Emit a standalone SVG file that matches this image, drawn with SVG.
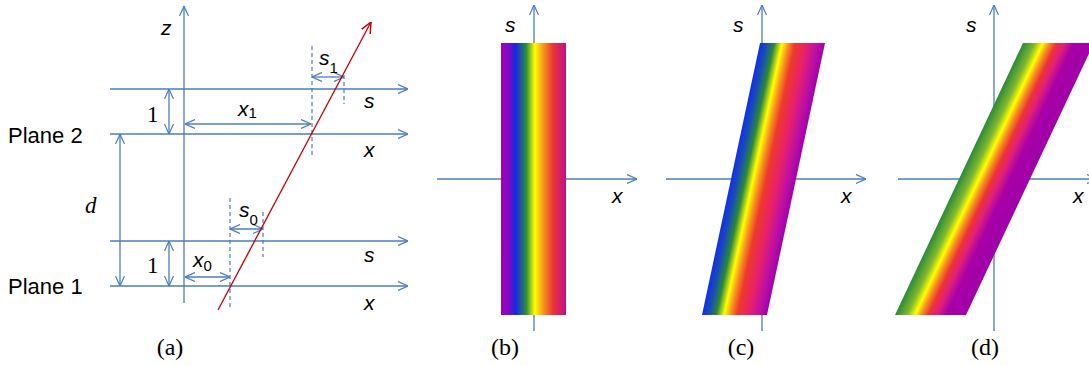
<svg xmlns="http://www.w3.org/2000/svg" width="1089" height="366" viewBox="0 0 1089 366">
<style>
.ax{stroke:#4a7ebb;stroke-width:1.3;fill:none}
.dash{stroke:#4a7ebb;stroke-width:1.2;stroke-dasharray:4 3;fill:none}
.ray{stroke:#c00000;stroke-width:1.3;fill:none}
.lab{font-family:"Liberation Sans",Arial,sans-serif;font-style:italic;font-size:21px;fill:#000}
.sub{font-family:"Liberation Sans",Arial,sans-serif;font-style:normal;font-size:15px;fill:#000}
.pl{font-family:"Liberation Sans",Arial,sans-serif;font-size:22px;fill:#000}
.ser{font-family:"Liberation Serif","Times New Roman",serif;font-size:23px;fill:#000}
.cap{font-family:"Liberation Serif","Times New Roman",serif;font-size:24px;fill:#000;text-anchor:middle}
</style>
<defs>
<marker id="arr" viewBox="0 0 10 10" refX="10" refY="5" markerWidth="10" markerHeight="10" markerUnits="userSpaceOnUse" orient="auto-start-reverse">
<path d="M0,0.5 L10,5 L0,9.5" fill="none" stroke="#4a7ebb" stroke-width="1.2"/>
</marker>
<marker id="arrR" viewBox="0 0 10 10" refX="10" refY="5" markerWidth="11" markerHeight="11" markerUnits="userSpaceOnUse" orient="auto">
<path d="M0,0.5 L10,5 L0,9.5" fill="none" stroke="#c00000" stroke-width="1.3"/>
</marker>
<linearGradient id="gb" x1="0" y1="0" x2="1" y2="0">
<stop offset="0" stop-color="#a000b4"/>
<stop offset="0.1" stop-color="#8a08c0"/>
<stop offset="0.23" stop-color="#1428e6"/>
<stop offset="0.39" stop-color="#2e8f3e"/>
<stop offset="0.52" stop-color="#ffff00"/>
<stop offset="0.66" stop-color="#f5901e"/>
<stop offset="0.8" stop-color="#e93535"/>
<stop offset="1" stop-color="#c0108c"/>
</linearGradient>
<linearGradient id="gc" x1="0" y1="0" x2="1" y2="0">
<stop offset="0" stop-color="#1030e8"/>
<stop offset="0.1" stop-color="#1a4ab8"/>
<stop offset="0.22" stop-color="#2a8a3a"/>
<stop offset="0.34" stop-color="#ffff00"/>
<stop offset="0.44" stop-color="#f59020"/>
<stop offset="0.54" stop-color="#ee3a2a"/>
<stop offset="0.72" stop-color="#e8206a"/>
<stop offset="0.87" stop-color="#c010a0"/>
<stop offset="1" stop-color="#a000b0"/>
</linearGradient>
<linearGradient id="gd" x1="0" y1="0" x2="1" y2="0">
<stop offset="0" stop-color="#2a8a3a"/>
<stop offset="0.17" stop-color="#80b830"/>
<stop offset="0.28" stop-color="#ffff00"/>
<stop offset="0.37" stop-color="#f59020"/>
<stop offset="0.47" stop-color="#ee3333"/>
<stop offset="0.58" stop-color="#e0207a"/>
<stop offset="0.72" stop-color="#a800a8"/>
<stop offset="1" stop-color="#a000a8"/>
</linearGradient>
</defs>

<g id="panel-a">
<g id="connectors-a">
<line class="ax" x1="184" y1="303" x2="184" y2="6" marker-end="url(#arr)"/>
<line class="ax" x1="110" y1="89" x2="408" y2="89" marker-end="url(#arr)"/>
<line class="ax" x1="110" y1="134" x2="408" y2="134" marker-end="url(#arr)"/>
<line class="ax" x1="110" y1="241" x2="408" y2="241" marker-end="url(#arr)"/>
<line class="ax" x1="110" y1="286" x2="408" y2="286" marker-end="url(#arr)"/>
<line class="ax" x1="120" y1="134" x2="120" y2="286" marker-start="url(#arr)" marker-end="url(#arr)"/>
<line class="ax" x1="169" y1="89" x2="169" y2="134" marker-start="url(#arr)" marker-end="url(#arr)"/>
<line class="ax" x1="169" y1="241" x2="169" y2="286" marker-start="url(#arr)" marker-end="url(#arr)"/>
<line class="ax" x1="185" y1="124" x2="311" y2="124" marker-start="url(#arr)" marker-end="url(#arr)"/>
<line class="ax" x1="312" y1="77" x2="344" y2="77" marker-start="url(#arr)" marker-end="url(#arr)"/>
<line class="ax" x1="230" y1="229" x2="263" y2="229" marker-start="url(#arr)" marker-end="url(#arr)"/>
<line class="ax" x1="185" y1="277" x2="230" y2="277" marker-start="url(#arr)" marker-end="url(#arr)"/>
<line class="dash" x1="312" y1="46" x2="312" y2="156"/>
<line class="dash" x1="344" y1="75" x2="344" y2="104"/>
<line class="dash" x1="230" y1="198" x2="230" y2="307"/>
<line class="dash" x1="263" y1="212" x2="263" y2="257"/>
<line class="ray" x1="218" y1="310" x2="371" y2="22" marker-end="url(#arrR)"/>
</g>
<text class="lab" x="161" y="35">z</text>
<text class="lab" x="364" y="108">s</text>
<text class="lab" x="364" y="157">x</text>
<text class="lab" x="364" y="262">s</text>
<text class="lab" x="364" y="310">x</text>
<text class="pl" x="8" y="143">Plane 2</text>
<text class="pl" x="8" y="294">Plane 1</text>
<text class="ser" x="147" y="122">1</text>
<text class="ser" x="147" y="273">1</text>
<text class="ser" x="85" y="213" font-style="italic" font-size="25">d</text>
<text class="lab" x="238" y="116">x<tspan class="sub" dy="2">1</tspan></text>
<text class="lab" x="319" y="65">s<tspan class="sub" dy="8">1</tspan></text>
<text class="lab" x="239" y="217">s<tspan class="sub" dy="8">0</tspan></text>
<text class="lab" x="193" y="267">x<tspan class="sub" dy="4">0</tspan></text>
<text class="cap" x="170" y="355">(a)</text>
</g>

<g id="panel-b">
<line class="ax" x1="534" y1="331" x2="534" y2="5" marker-end="url(#arr)"/>
<line class="ax" x1="437" y1="179" x2="637" y2="179" marker-end="url(#arr)"/>
<rect x="501" y="43" width="65" height="272" fill="url(#gb)"/>
<text class="lab" x="505" y="32">s</text>
<text class="lab" x="612" y="203">x</text>
<text class="cap" x="505" y="355">(b)</text>
</g>

<g id="panel-c">
<line class="ax" x1="762" y1="331" x2="762" y2="5" marker-end="url(#arr)"/>
<line class="ax" x1="666" y1="179" x2="866" y2="179" marker-end="url(#arr)"/>
<g transform="translate(702,315) skewX(-12.04)">
<rect x="0" y="-272" width="65" height="272" fill="url(#gc)"/>
</g>
<text class="lab" x="733" y="32">s</text>
<text class="lab" x="841" y="203">x</text>
<text class="cap" x="741" y="355">(c)</text>
</g>

<g id="panel-d">
<line class="ax" x1="994" y1="331" x2="994" y2="5" marker-end="url(#arr)"/>
<line class="ax" x1="898" y1="179" x2="1097" y2="179" marker-end="url(#arr)"/>
<g transform="translate(895,315) skewX(-25.2)">
<rect x="0" y="-272" width="71" height="272" fill="url(#gd)"/>
</g>
<text class="lab" x="966" y="32">s</text>
<text class="lab" x="1073" y="203">x</text>
<text class="cap" x="985" y="355">(d)</text>
</g>
</svg>
